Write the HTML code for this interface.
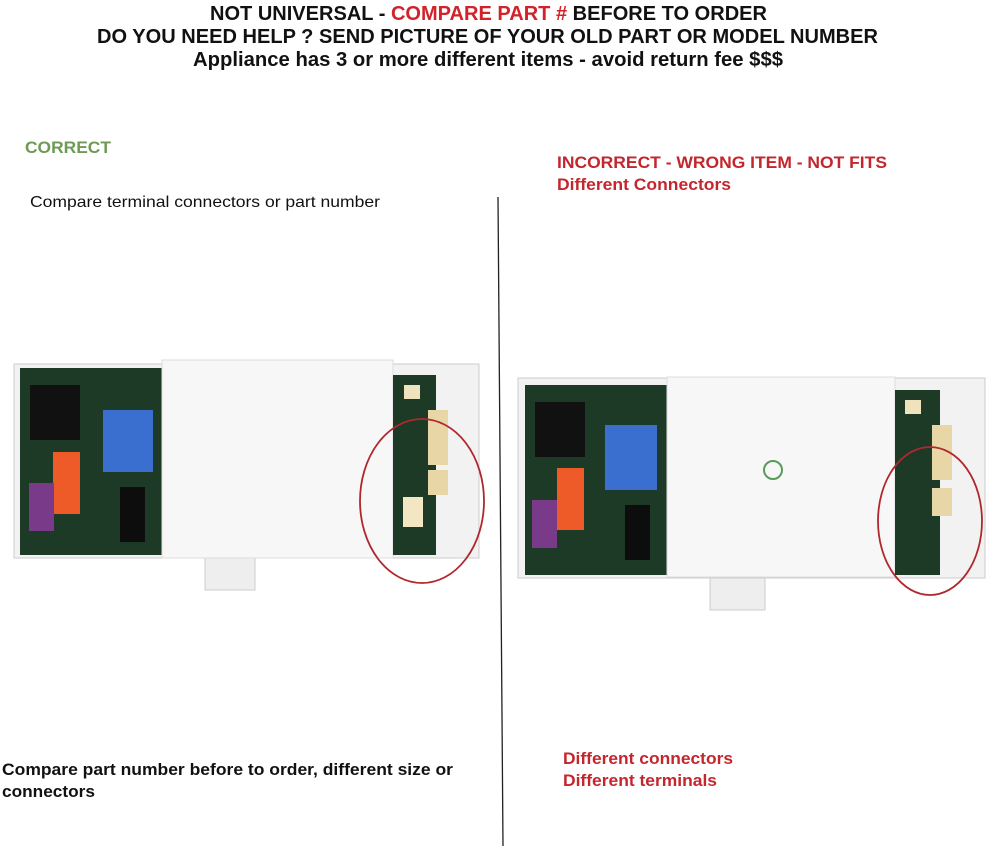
<!DOCTYPE html>
<html><head><meta charset="utf-8"><style>
html,body{margin:0;padding:0;background:#fff;}
svg{display:block;}
</style></head><body>
<svg width="1000" height="846" xmlns="http://www.w3.org/2000/svg" font-family="Liberation Sans, Arial, sans-serif">
<g font-weight="bold" font-size="20" fill="#111">
<text x="210" y="20" textLength="557" lengthAdjust="spacingAndGlyphs">NOT UNIVERSAL - <tspan fill="#d2222a">COMPARE PART #</tspan> BEFORE TO ORDER</text>
<text x="97" y="43" textLength="781" lengthAdjust="spacingAndGlyphs">DO YOU NEED HELP ? SEND PICTURE OF YOUR OLD PART OR MODEL NUMBER</text>
<text x="193" y="66" textLength="590" lengthAdjust="spacingAndGlyphs">Appliance has 3 or more different items  - avoid return fee $$$</text>
</g>
<text x="25" y="153" font-size="17" font-weight="bold" fill="#6f9a55" textLength="86" lengthAdjust="spacingAndGlyphs">CORRECT</text>
<text x="30" y="207" font-size="16" fill="#111" textLength="350" lengthAdjust="spacingAndGlyphs">Compare terminal connectors or part number</text>
<g font-weight="bold" font-size="17" fill="#c4262d">
<text x="557" y="168" textLength="330" lengthAdjust="spacingAndGlyphs">INCORRECT - WRONG ITEM - NOT FITS</text>
<text x="557" y="190" textLength="174" lengthAdjust="spacingAndGlyphs">Different Connectors</text>
<text x="563" y="764" textLength="170" lengthAdjust="spacingAndGlyphs">Different connectors</text>
<text x="563" y="786" textLength="154" lengthAdjust="spacingAndGlyphs">Different terminals</text>
</g>
<g font-weight="bold" font-size="17" fill="#111">
<text x="2" y="775" textLength="451" lengthAdjust="spacingAndGlyphs">Compare part number before to order, different size or</text>
<text x="2" y="797" textLength="93" lengthAdjust="spacingAndGlyphs">connectors</text>
</g>
<line x1="498" y1="197" x2="503" y2="846" stroke="#222" stroke-width="1.3"/>

<!-- left board -->
<g>
<rect x="205" y="550" width="50" height="40" fill="#eee" stroke="#ccc"/>
<rect x="14" y="364" width="465" height="194" fill="#f2f2f2" stroke="#ccc"/>
<rect x="20" y="368" width="143" height="187" fill="#1d3a26"/>
<rect x="30" y="385" width="50" height="55" fill="#111"/>
<rect x="103" y="410" width="50" height="62" fill="#3a6fd0"/>
<rect x="53" y="452" width="27" height="62" fill="#ee5b28"/>
<rect x="29" y="483" width="25" height="48" fill="#7a3a8a"/>
<rect x="120" y="487" width="25" height="55" fill="#0d0d0d"/>
<rect x="162" y="360" width="231" height="198" fill="#f7f7f7" stroke="#ddd"/>
<rect x="393" y="375" width="43" height="180" fill="#1d3a26"/>
<rect x="428" y="410" width="20" height="55" fill="#e8d6a6"/>
<rect x="428" y="470" width="20" height="25" fill="#e8d6a6"/>
<rect x="403" y="497" width="20" height="30" fill="#f3e6c3"/>
<rect x="404" y="385" width="16" height="14" fill="#efe2bd"/>
<ellipse cx="422" cy="501" rx="62" ry="82" fill="none" stroke="#b0282d" stroke-width="1.8"/>
</g>
<!-- right board -->
<g>
<rect x="710" y="570" width="55" height="40" fill="#eee" stroke="#ccc"/>
<rect x="518" y="378" width="467" height="200" fill="#f2f2f2" stroke="#ccc"/>
<rect x="525" y="385" width="143" height="190" fill="#1d3a26"/>
<rect x="535" y="402" width="50" height="55" fill="#111"/>
<rect x="605" y="425" width="52" height="65" fill="#3a6fd0"/>
<rect x="557" y="468" width="27" height="62" fill="#ee5b28"/>
<rect x="532" y="500" width="25" height="48" fill="#7a3a8a"/>
<rect x="625" y="505" width="25" height="55" fill="#0d0d0d"/>
<rect x="667" y="377" width="228" height="200" fill="#f7f7f7" stroke="#ddd"/>
<circle cx="773" cy="470" r="9" fill="none" stroke="#5a9a5a" stroke-width="2"/>
<rect x="895" y="390" width="45" height="185" fill="#1d3a26"/>
<rect x="932" y="425" width="20" height="55" fill="#e8d6a6"/>
<rect x="932" y="488" width="20" height="28" fill="#e8d6a6"/>
<rect x="905" y="400" width="16" height="14" fill="#efe2bd"/>
<ellipse cx="930" cy="521" rx="52" ry="74" fill="none" stroke="#b0282d" stroke-width="1.8"/>
</g>
</svg>
</body></html>
